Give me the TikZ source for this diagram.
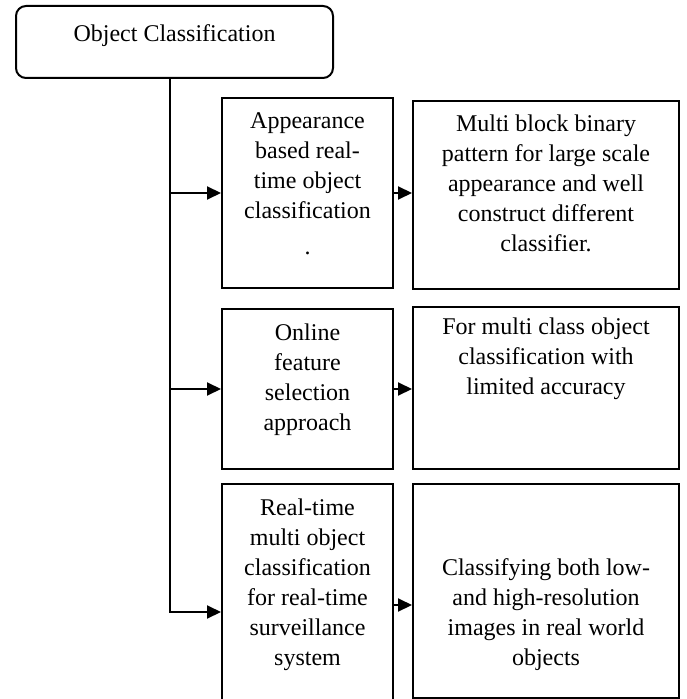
\documentclass[tikz,border=0pt]{standalone}
\usepackage{fontspec}
\setmainfont{Liberation Serif}
\usetikzlibrary{positioning,arrows.meta}

\tikzset{
  box/.style={draw, line width=1pt, inner sep=0pt},
  note/.style={inner sep=0pt, align=center, font=\fontsize{12}{15}\selectfont},
  flow/.style={line width=1pt, -{Triangle[length=7pt,width=6.5pt]}}
}

\begin{document}
\begin{tikzpicture}[x=0.5pt,y=-0.5pt]
\useasboundingbox (0,0) rectangle (686,699);
\clip (0,0) rectangle (686,699);

%root
\node[box, rounded corners=5pt, minimum width=158.5pt, minimum height=36pt,
      text height=9pt, text depth=9pt, font=\fontsize{12}{15}\selectfont]
      (root) at (174.5,42) {Object Classification};

%methods
\node[box, minimum width=85.5pt, minimum height=95pt] (a1) at (307.5,193) {};
\node[box, minimum width=85.5pt, minimum height=80pt] (a2) at (307.5,389) {};
\node[box, minimum width=85.5pt, minimum height=128pt] (a3) at (307.5,612) {};
\node[note, below=7.5pt of a1.north] (a1t) {Appearance\\based real-\\time object\\classification\\[3pt].};
\node[note, below=7.5pt of a2.north] (a2t) {Online\\feature\\selection\\approach};
\node[note, below=7.5pt of a3.north] (a3t) {Real-time\\multi object\\classification\\for real-time\\surveillance\\system};

%results
\node[box, minimum width=133pt, minimum height=94pt] (b1) at (546,195) {};
\node[box, minimum width=133pt, minimum height=81pt] (b2) at (546,388) {};
\node[box, minimum width=133pt, minimum height=107pt] (b3) at (546,590.5) {};
\node[note, below=7pt of b1.north] (b1t) {Multi block binary\\pattern for large scale\\appearance and well\\construct different\\classifier.};
\node[note, below=5.5pt of b2.north] (b2t) {For multi class object\\classification with\\limited accuracy};
\node[note, below=38pt of b3.north] (b3t) {Classifying both low-\\and high-resolution\\images in real world\\objects};

%trunk and arrows
\coordinate (spine) at (170,0);
\draw[flow] (root.south -| spine) -- (spine |- a3) -- (a3.west);
\draw[flow] (spine |- a1) -- (a1.west);
\draw[flow] (spine |- a2) -- (a2.west);
\draw[flow] (a1.east) -- (a1.east -| b1.west);
\draw[flow] (a2.east) -- (a2.east -| b2.west);
\draw[flow] ([yshift=3.5pt]a3.east) -- ([yshift=3.5pt]a3.east -| b3.west);
\end{tikzpicture}
\end{document}
